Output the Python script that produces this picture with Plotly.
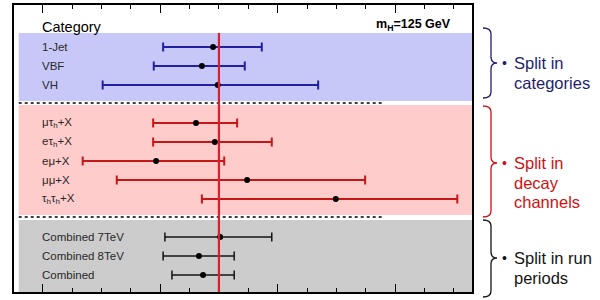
import numpy as np
import plotly.graph_objects as go

# ---- data ----
cat_labels = ["1-Jet", "VBF", "VH"]
cat_rows = [1, 2, 3]
cat_best = [0.90, 0.71, 0.98]
cat_lo = [0.05, -0.11, -0.98]
cat_hi = [1.73, 1.44, 2.69]

ch_labels = ["μτ<sub>h</sub>+X", "eτ<sub>h</sub>+X", "eμ+X", "μμ+X", "τ<sub>h</sub>τ<sub>h</sub>+X"]
ch_rows = [5, 6, 7, 8, 9]
ch_best = [0.61, 0.93, -0.07, 1.48, 2.99]
ch_lo = [-0.12, -0.12, -1.32, -0.74, 0.71]
ch_hi = [1.31, 1.90, 1.09, 3.49, 5.06]

per_labels = ["Combined 7TeV", "Combined 8TeV", "Combined"]
per_rows = [11, 12, 13]
per_best = [1.02, 0.66, 0.73]
per_lo = [0.08, 0.05, 0.20]
per_hi = [1.90, 1.26, 1.26]

sm_value = 1.0
x_ticks = [-2, 0, 2, 4]

# ---- layout geometry (pixels) ----
W, H = 600, 300
L, R, T, B = 14, 128, 5, 8
PW, PH = W - L - R, H - T - B


def px(x):
    return (x - L) / PW


def py(y):
    return (H - B - y) / PH


fig = go.Figure()

groups = [
    (cat_labels, cat_rows, cat_best, cat_lo, cat_hi, "rgb(32,32,160)", 2),
    (ch_labels, ch_rows, ch_best, ch_lo, ch_hi, "rgb(196,24,24)", 2),
    (per_labels, per_rows, per_best, per_lo, per_hi, "rgb(20,20,20)", 1.5),
]

# background bands
band_spans = [(0.26, 3.84, "rgb(200,200,248)"), (4.05, 9.84, "rgb(255,204,204)"), (10.1, 13.89, "rgb(204,204,204)")]
for y0, y1, col in band_spans:
    fig.add_shape(type="rect", xref="x", yref="y", x0=-2.41, x1=5.31, y0=y0, y1=y1,
                  fillcolor=col, line_width=0, layer="below")
for ysep in [3.95, 9.95]:
    fig.add_shape(type="line", xref="x", yref="y", x0=-2.41, x1=3.8, y0=ysep, y1=ysep,
                  line=dict(color="black", width=1.5, dash="dot"))

for labels, rows, best, lo, hi, col, lw in groups:
    best = np.array(best)
    fig.add_trace(go.Scatter(
        x=best, y=rows, mode="markers",
        marker=dict(color="black", size=6),
        error_x=dict(type="data", symmetric=False,
                     array=np.array(hi) - best, arrayminus=best - np.array(lo),
                     color=col, thickness=lw, width=4.5),
        showlegend=False, hoverinfo="skip"))
    for lab, r in zip(labels, rows):
        fig.add_annotation(x=px(40), xref="paper", y=r, yref="y", text=lab,
                           showarrow=False, xanchor="left", yanchor="middle",
                           font=dict(family="Liberation Sans, Arial", size=11.5, color="rgb(40,40,40)"))

# SM line
fig.add_shape(type="line", xref="x", yref="y", x0=sm_value, x1=sm_value, y0=0.26, y1=13.89,
              line=dict(color="rgb(220,30,45)", width=2.2))

fig.add_annotation(x=px(40), xref="paper", y=py(27), yref="paper", text="Category",
                   showarrow=False, xanchor="left", yanchor="middle",
                   font=dict(family="Liberation Sans, Arial", size=14.5, color="black"))
fig.add_annotation(x=px(453), xref="paper", y=py(25), yref="paper",
                   text="<b>m<sub>H</sub>=125 GeV</b>",
                   showarrow=False, xanchor="right", yanchor="middle",
                   font=dict(family="Liberation Sans, Arial", size=12.5, color="black"))


# braces and side text
def brace(ytop, ybot, ytip, col):
    x0, x1, x2 = px(483), px(491), px(497)
    y0, y1, ym = py(ytop), py(ybot), py(ytip)
    r = 6 / PH
    path = (f"M {x0},{y0} Q {x1},{y0} {x1},{y0 - r} L {x1},{ym + r} "
            f"Q {x1},{ym} {x2},{ym} Q {x1},{ym} {x1},{ym - r} "
            f"L {x1},{y1 + r} Q {x1},{y1} {x0},{y1}")
    fig.add_shape(type="path", xref="paper", yref="paper", path=path,
                  line=dict(color=col, width=1.3))


side = [
    (28, 98, 63, "rgb(30,30,110)", ["Split in", "categories"]),
    (106, 217, 163, "rgb(210,16,16)", ["Split in", "decay", "channels"]),
    (220, 297, 258, "rgb(20,20,20)", ["Split in run", "periods"]),
]
for ytop, ybot, ytip, col, lines in side:
    brace(ytop, ybot, ytip, col)
    fig.add_annotation(x=px(505), xref="paper", y=py(ytip), yref="paper", text="•",
                       showarrow=False, xanchor="center", yanchor="middle",
                       font=dict(family="Liberation Sans, Arial", size=14, color=col))
    for i, ln in enumerate(lines):
        fig.add_annotation(x=px(512), xref="paper", y=py(ytip + i * 19.5), yref="paper", text=ln,
                           showarrow=False, xanchor="left", yanchor="middle",
                           font=dict(family="Liberation Sans, Arial", size=16.5, color=col))

fig.update_layout(
    width=W, height=H, margin=dict(l=L, r=R, t=T, b=B),
    paper_bgcolor="white", plot_bgcolor="white",
    xaxis=dict(range=[-2.49, 5.31], tickvals=x_ticks, ticks="inside", ticklen=8, tickwidth=1.3,
               tickcolor="black", showline=True, linecolor="black", linewidth=2, mirror="ticks",
               showgrid=False, zeroline=False, automargin=False,
               tickfont=dict(family="Liberation Sans, Arial", size=18, color="black"),
               minor=dict(dtick=0.5, tick0=0, ticks="inside", ticklen=4, tickcolor="black", tickwidth=1)),
    yaxis=dict(range=[13.89, -1.21], showline=True, linecolor="black", linewidth=2, mirror=True,
               showticklabels=False, ticks="", showgrid=False, zeroline=False, automargin=False),
)

fig.write_html("out.html")
